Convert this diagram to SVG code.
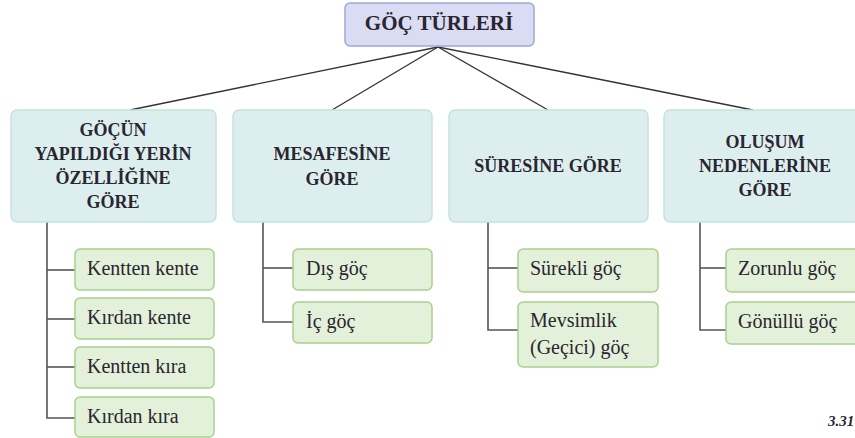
<svg xmlns="http://www.w3.org/2000/svg" width="855" height="438" viewBox="0 0 855 438">
<style>
.title{fill:#d9dcf2;stroke:#9ea6d9;stroke-width:1.5}
.cat{fill:#dcefee;stroke:#c4e3e0;stroke-width:1.5}
.leaf{fill:#e3f1da;stroke:#a8d18f;stroke-width:1.5}
.ct{font-family:"Liberation Serif",serif;font-weight:bold;font-size:18px;fill:#2a2530;text-anchor:middle}
.lt{font-family:"Liberation Serif",serif;font-size:20px;fill:#2a2530}
.conn line{stroke:#333;stroke-width:1.3;fill:none}
.br line,.br polyline{stroke:#555;stroke-width:1.6;fill:none}
</style>
<rect width="855" height="438" fill="#fff"/>
<g class="conn" id="connectors">
<line x1="438" y1="47" x2="130" y2="110"/>
<line x1="438" y1="47" x2="332" y2="110"/>
<line x1="438" y1="47" x2="548" y2="110"/>
<line x1="438" y1="47" x2="753" y2="110"/>
</g>
<g class="br" id="branches">
<polyline points="47,222 47,418 75,418"/>
<line x1="47" y1="270" x2="75" y2="270"/>
<line x1="47" y1="319" x2="75" y2="319"/>
<line x1="47" y1="367" x2="75" y2="367"/>
<polyline points="263,222 263,322 293,322"/>
<line x1="263" y1="268" x2="293" y2="268"/>
<polyline points="488,222 488,330 518,330"/>
<line x1="488" y1="268" x2="518" y2="268"/>
<polyline points="700,222 700,330 726,330"/>
<line x1="700" y1="268" x2="726" y2="268"/>
</g>
<g id="n-root"><rect class="title" x="345" y="3" width="189" height="43" rx="5"/><text class="ct" x="439" y="30" style="font-size:21px">GÖÇ TÜRLERİ</text></g>
<g id="n-c1"><rect class="cat" x="11" y="110" width="205" height="112" rx="6"/>
<text class="ct" x="113" y="136">GÖÇÜN</text><text class="ct" x="113" y="160">YAPILDIĞI YERİN</text><text class="ct" x="113" y="184">ÖZELLİĞİNE</text><text class="ct" x="113" y="208">GÖRE</text></g>
<g id="n-c2"><rect class="cat" x="233" y="110" width="199" height="112" rx="6"/>
<text class="ct" x="332" y="160">MESAFESİNE</text><text class="ct" x="332" y="185">GÖRE</text></g>
<g id="n-c3"><rect class="cat" x="449" y="110" width="199" height="112" rx="6"/>
<text class="ct" x="548" y="172">SÜRESİNE GÖRE</text></g>
<g id="n-c4"><rect class="cat" x="664" y="110" width="205" height="112" rx="6"/>
<text class="ct" x="765" y="148">OLUŞUM</text><text class="ct" x="765" y="172">NEDENLERİNE</text><text class="ct" x="765" y="196">GÖRE</text></g>
<g id="n-l1"><rect class="leaf" x="75" y="249" width="139" height="41" rx="5"/><text class="lt" x="87" y="275">Kentten kente</text></g>
<g id="n-l2"><rect class="leaf" x="75" y="298" width="139" height="41" rx="5"/><text class="lt" x="87" y="324">Kırdan kente</text></g>
<g id="n-l3"><rect class="leaf" x="75" y="347" width="139" height="41" rx="5"/><text class="lt" x="87" y="373">Kentten kıra</text></g>
<g id="n-l4"><rect class="leaf" x="75" y="397" width="139" height="40" rx="5"/><text class="lt" x="87" y="423">Kırdan kıra</text></g>
<g id="n-l5"><rect class="leaf" x="293" y="249" width="139" height="41" rx="5"/><text class="lt" x="306" y="275">Dış göç</text></g>
<g id="n-l6"><rect class="leaf" x="293" y="302" width="139" height="41" rx="5"/><text class="lt" x="306" y="328">İç göç</text></g>
<g id="n-l7"><rect class="leaf" x="518" y="249" width="140" height="43" rx="5"/><text class="lt" x="530" y="275">Sürekli göç</text></g>
<g id="n-l8"><rect class="leaf" x="518" y="302" width="140" height="65" rx="5"/><text class="lt" x="530" y="327">Mevsimlik</text><text class="lt" x="530" y="354">(Geçici) göç</text></g>
<g id="n-l9"><rect class="leaf" x="726" y="249" width="140" height="43" rx="5"/><text class="lt" x="738" y="275">Zorunlu göç</text></g>
<g id="n-l10"><rect class="leaf" x="726" y="302" width="140" height="42" rx="5"/><text class="lt" x="738" y="328">Gönüllü göç</text></g>
<text x="828" y="426" font-family="Liberation Serif, serif" font-weight="bold" font-style="italic" font-size="15" fill="#2a2530">3.31</text>
</svg>
